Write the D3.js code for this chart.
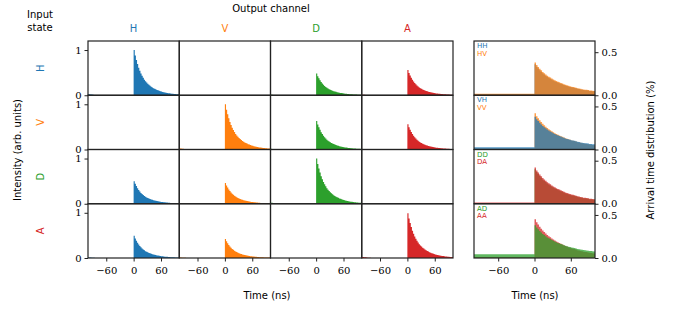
<!DOCTYPE html>
<html>
<head>
<meta charset="utf-8">
<script src="https://cdn.jsdelivr.net/npm/d3@7"></script>
<style>
  body { margin: 0; background: white; }
  svg { display: block; }
</style>
</head>
<body>
<svg id="chart" width="677" height="315"></svg>
<script>
const SANS = "'DejaVu Sans', sans-serif";
const SERIF = "'DejaVu Serif', serif";

// channels / states
const channels = ["H", "V", "D", "A"];
const channelColors = ["#1f77b4", "#ff7f0e", "#2ca02c", "#d62728"];

// peak intensity of each input state (row) in each output channel (col)
const amplitude = [
    [1.00, 0.00, 0.48, 0.56],
    [0.00, 1.00, 0.63, 0.56],
    [0.50, 0.46, 1.00, 0.00],
    [0.49, 0.42, 0.00, 0.99]
];

// normalised decay after t = 0, 2.5 ns bins (0 .. 97.5 ns)
const decayShape = [1.00, 0.88, 0.78, 0.69, 0.61, 0.54, 0.48, 0.43, 0.385, 0.345,
    0.31, 0.28, 0.255, 0.23, 0.21, 0.19, 0.172, 0.157, 0.143, 0.13,
    0.118, 0.108, 0.098, 0.089, 0.081, 0.074, 0.067, 0.061, 0.056, 0.051,
    0.046, 0.042, 0.038, 0.035, 0.032, 0.029, 0.026, 0.024, 0.022, 0.020];
// leftover tail from the previous pulse, 2.5 ns bins (-100 .. -2.5 ns)
const preTail = [0.022, 0.020, 0.017, 0.014, 0.011, 0.008, 0.005, 0.003, 0.002, 0.001,
    0, 0, 0, 0, 0, 0, 0, 0, 0, 0, 0, 0, 0, 0, 0, 0, 0, 0, 0, 0, 0, 0, 0, 0, 0, 0, 0, 0, 0, 0];

// right column: arrival time distributions (%)
const pairLabels = [["HH", "HV"], ["VH", "VV"], ["DD", "DA"], ["AD", "AA"]];
const pairPeak = [[0.36, 0.38], [0.38, 0.42], [0.40, 0.42], [0.38, 0.45]];
const pairBackground = [[0.012, 0.016], [0.026, 0.012], [0.010, 0.014], [0.045, 0.012]];
// series index drawn last (on top) in each row
const pairOnTop = [1, 0, 1, 0];
// slower normalised shape, 2.5 ns bins (0 .. 97.5 ns)
const arrivalShape = [1.00, 0.92, 0.86, 0.80, 0.75, 0.70, 0.66, 0.62, 0.58, 0.55,
    0.52, 0.49, 0.46, 0.435, 0.41, 0.39, 0.37, 0.35, 0.33, 0.31,
    0.29, 0.275, 0.26, 0.245, 0.23, 0.22, 0.21, 0.195, 0.18, 0.17,
    0.16, 0.15, 0.14, 0.135, 0.13, 0.12, 0.11, 0.105, 0.10, 0.095];

const xTicks = [-60, 0, 60];
const yTicksLeft = [0, 1];
const yTicksRight = [0.0, 0.5];

const svg = d3.select("#chart");
const gridX0 = 88, gridX1 = 453, gridY0 = 41, gridY1 = 258;
const rightX0 = 474, rightX1 = 595;
const colW = (gridX1 - gridX0) / 4, rowH = (gridY1 - gridY0) / 4;
const spine = "#222";

const timesFine = d3.range(-100, 100, 2.5);
const timesPos = d3.range(0, 100, 2.5);
const minus = d => d < 0 ? "\u2212" + (-d) : String(d);

function panelScales(x0, w, row, ymax) {
    const x = d3.scaleLinear().domain([-100, 100]).range([x0, x0 + w]);
    const y = d3.scaleLinear().domain([0, ymax]).range([gridY0 + (row + 1) * rowH, gridY0 + row * rowH]);
    return { x, y };
}

function styleAxis(s, dy) {
    s.select(".domain").remove();
    s.attr("font-family", SERIF);
    s.selectAll("line").attr("stroke", spine);
    s.selectAll("text").attr("font-size", 10).attr("fill", "#000");
    if (dy) s.selectAll("text").attr("dy", dy);
}

// left grid
channels.forEach((inp, r) => {
    channels.forEach((out, c) => {
        const { x, y } = panelScales(gridX0 + c * colW, colW, r, 1.2);
        const a = amplitude[r][c];
        const vals = preTail.concat(decayShape).map(v => v * a);
        const pts = timesFine.map((t, i) => [t, vals[i]]).concat([[100, vals[vals.length - 1]]]);
        const g = svg.append("g");
        g.append("path").datum(pts)
            .attr("d", d3.area().curve(d3.curveStepAfter).x(d => x(d[0])).y0(y(0)).y1(d => y(d[1])))
            .attr("fill", channelColors[c]);
        g.append("rect").attr("x", x(-100)).attr("y", y(1.2)).attr("width", colW).attr("height", rowH)
            .attr("fill", "none").attr("stroke", spine).attr("stroke-width", 1.2);
        if (c === 0) {
            g.append("g").attr("transform", `translate(${x(-100)},0)`)
                .call(d3.axisLeft(y).tickValues(yTicksLeft).tickSize(3.5).tickFormat(d3.format("d")))
                .call(s => styleAxis(s));
        }
        if (r === 3) {
            g.append("g").attr("transform", `translate(0,${y(0)})`)
                .call(d3.axisBottom(x).tickValues(xTicks).tickSize(3.5).tickFormat(minus))
                .call(s => styleAxis(s, "0.95em"));
        }
    });
});

// right column
pairLabels.forEach((labels, r) => {
    const { x, y } = panelScales(rightX0, rightX1 - rightX0, r, 0.63);
    const g = svg.append("g");
    const order = pairOnTop[r] === 1 ? [0, 1] : [1, 0];
    order.forEach(k => {
        const col = channels.indexOf(labels[k][1]);
        const bg = pairBackground[r][k], pk = pairPeak[r][k];
        const vals = arrivalShape.map(v => bg + (pk - bg) * v);
        const pts = [[-100, bg]]
            .concat(timesPos.map((t, i) => [t, vals[i]]))
            .concat([[100, vals[vals.length - 1]]]);
        g.append("path").datum(pts)
            .attr("d", d3.area().curve(d3.curveStepAfter).x(d => x(d[0])).y0(y(0)).y1(d => y(d[1])))
            .attr("fill", channelColors[col]).attr("fill-opacity", 0.75);
    });
    g.append("rect").attr("x", x(-100)).attr("y", y(0.63)).attr("width", rightX1 - rightX0).attr("height", rowH)
        .attr("fill", "none").attr("stroke", spine).attr("stroke-width", 1.2);
    g.append("g").attr("transform", `translate(${x(100)},0)`)
        .call(d3.axisRight(y).tickValues(yTicksRight).tickSize(3.5).tickFormat(d3.format(".1f")))
        .call(s => styleAxis(s));
    labels.forEach((lab, k) => {
        g.append("text").attr("x", x(-100) + 3).attr("y", y(0.63) + 7 + k * 7.5)
            .attr("font-family", SANS).attr("font-size", 7)
            .attr("fill", channelColors[channels.indexOf(lab[1])]).text(lab);
    });
    if (r === 3) {
        g.append("g").attr("transform", `translate(0,${y(0)})`)
            .call(d3.axisBottom(x).tickValues(xTicks).tickSize(3.5).tickFormat(minus))
            .call(s => styleAxis(s, "0.95em"));
    }
});

// headers and labels
const txt = (x, y, s, opts = {}) => svg.append("text").attr("x", x).attr("y", y)
    .attr("font-family", SANS).attr("text-anchor", "middle").attr("font-size", opts.size || 10)
    .attr("fill", opts.fill || "#000")
    .attr("transform", opts.rot ? `rotate(-90,${x},${y})` : null).attr("dominant-baseline", "middle").text(s);

txt(40, 15, "Input");
txt(40, 28, "state");
txt(271, 9, "Output channel");
channels.forEach((ch, i) => {
    txt(gridX0 + (i + 0.5) * colW, 29, ch, { fill: channelColors[i] });
    txt(41, gridY0 + (i + 0.5) * rowH, ch, { fill: channelColors[i], rot: true });
});
txt(18, 150, "Intensity (arb. units)", { rot: true });
txt(267, 296, "Time (ns)");
txt(535, 296, "Time (ns)");
txt(651, 150, "Arrival time distribution (%)", { rot: true });
</script>
</body>
</html>
